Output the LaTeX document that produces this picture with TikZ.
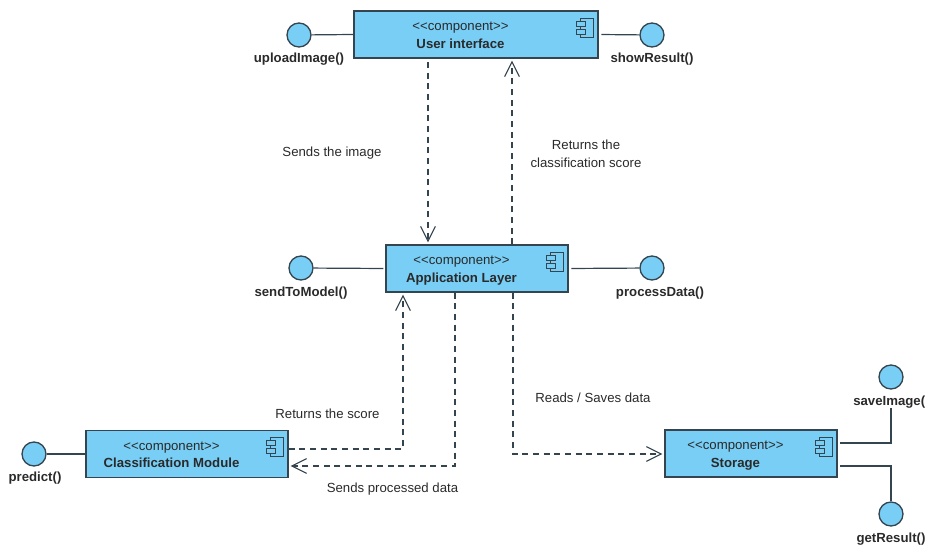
\documentclass[tikz,border=0pt]{standalone}
\usepackage{fontspec}
\setmainfont{Liberation Sans}
\usetikzlibrary{arrows.meta}
\definecolor{compblue}{HTML}{78CEF5}
\definecolor{compline}{HTML}{35454F}
\definecolor{comptxt}{HTML}{2A2A2A}
\tikzset{
  compbox/.style={draw=compline,fill=compblue,line width=1pt,inner sep=0pt,minimum height=35.25pt,text=comptxt,font=\fontsize{9.9}{11}\selectfont},
  iface/.style={draw=compline,fill=compblue,circle,line width=1pt,inner sep=0pt,minimum size=18pt},
  ifacetxt/.style={text=comptxt,inner sep=0pt,yshift=-0.75pt,font=\fontsize{9.9}{11}\selectfont\bfseries},
  msg/.style={text=comptxt,inner sep=0pt,yshift=-0.75pt,align=center,font=\fontsize{9.9}{13.5}\selectfont},
  link/.style={draw=compline,line width=0.9pt},
  dep/.style={draw=compline,line width=0.85pt,dash pattern=on 4.5pt off 3.5pt,-{Straight Barb[length=11pt,width=11pt,line width=0.85pt]},shorten >=1.5pt}
}
% text sits left of the middle, the icon takes the right side
\newcommand{\comptext}[1]{\begin{tabular}{@{}c@{}}\rule{0pt}{10.5pt}<{}<component>{}>\\[2.2pt]\textbf{#1}\end{tabular}\kern23.25pt}
\newcommand{\compicon}[1]{
  \begin{scope}[shift={(#1.north east)}]
    \draw[compline,line width=0.8pt] (-18,8) rectangle (-5,27);
    \draw[compline,fill=compblue,line width=0.8pt] (-22,11) rectangle (-13,16);
    \draw[compline,fill=compblue,line width=0.8pt] (-22,19) rectangle (-13,24);
  \end{scope}
}
\begin{document}
\begin{tikzpicture}[x=0.75pt,y=-0.75pt]
  \useasboundingbox (0,0) rectangle (925,545);

  % components
  \node[compbox,minimum width=183pt] (ui) at (476,34.5) {\comptext{User interface}};
  \node[compbox,minimum width=136.5pt] (app) at (477,268.5) {\comptext{Application Layer}};
  \node[compbox,minimum width=151.5pt] (cls) at (187,454) {\comptext{Classification Module}};
  \node[compbox,minimum width=129pt] (store) at (751,453.5) {\comptext{Storage}};
  \compicon{ui}
  \compicon{app}
  \compicon{cls}
  \compicon{store}

  % interfaces
  \node[iface] (upload) at (299,35) {};
  \node[iface] (show) at (652,35) {};
  \node[iface] (send) at (301,268) {};
  \node[iface] (process) at (652,268) {};
  \node[iface] (predict) at (34,454) {};
  \node[iface] (save) at (891,377) {};
  \node[iface] (get) at (891,514) {};

  \node[ifacetxt] (uploadtxt) at (299,58) {uploadImage()};
  \node[ifacetxt] (showtxt) at (652,58) {showResult()};
  \node[ifacetxt] (sendtxt) at (301,292) {sendToModel()};
  \node[ifacetxt] (processtxt) at (660,292) {processData()};
  \node[ifacetxt] (predicttxt) at (35,477) {predict()};
  \node[ifacetxt,anchor=west] (savetxt) at (853,401) {saveImage(};
  \node[ifacetxt] (gettxt) at (891,538) {getResult()};

  \draw[link] (upload) -- (ui.west);
  \draw[link,shorten <=2pt] (ui.east) -- (show);
  \draw[link,shorten >=1.5pt] (send) -- (app.west);
  \draw[link,shorten <=2pt] (app.east) -- (process);
  \draw[link] (predict) -- (cls.west);

  \coordinate (savebend) at (891,443);
  \coordinate (getbend) at (891,466);
  \draw[link,shorten <=2pt] (store.east |- savebend) -- (savebend) -- (savetxt.south -| savebend);
  \draw[link,shorten <=2pt] (store.east |- getbend) -- (getbend) -- (get);

  % dashed dependencies
  \coordinate (imgx) at (428,0);
  \coordinate (retx) at (512,0);
  \coordinate (scorebend) at (403,449);
  \coordinate (databend) at (455,466);
  \coordinate (storebend) at (513,454);
  \draw[dep] ([yshift=-2.5pt]ui.south -| imgx) -- (app.north -| imgx);
  \draw[dep] (app.north -| retx) -- (ui.south -| retx);
  \draw[dep] (cls.east |- scorebend) -- (scorebend) -- (app.south -| scorebend);
  \draw[dep] (app.south -| databend) -- (databend) -- (cls.east |- databend);
  \draw[dep] (app.south -| storebend) -- (storebend) -- (store.west |- storebend);

  % messages
  \node[msg] (imgmsg) at (332,152) {Sends the image};
  \node[msg] (retmsg) at (586,153) {Returns the\\classification score};
  \node[msg] (scoremsg) at (327.5,413) {Returns the score};
  \node[msg] (datamsg) at (392.5,488) {Sends processed data};
  \node[msg] (rwmsg) at (593,397) {Reads / Saves data};
\end{tikzpicture}
\end{document}
